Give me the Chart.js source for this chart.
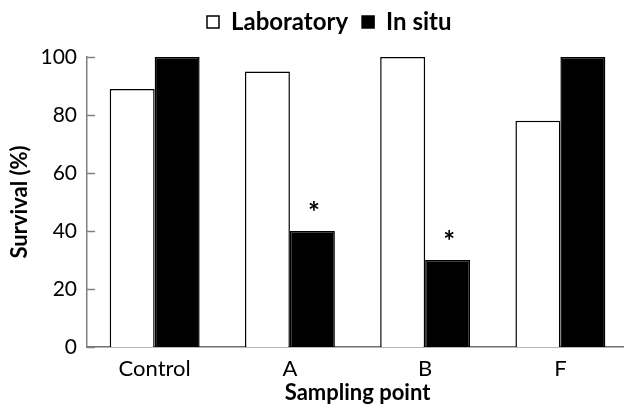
<!DOCTYPE html>
<html>
<head>
<meta charset="utf-8">
<script src="https://cdn.jsdelivr.net/npm/chart.js@4"></script>
<style>
  html, body { margin: 0; padding: 0; background: #ffffff; }
  #c { display: block; }
</style>
</head>
<body>
<canvas id="c" width="624" height="419"></canvas>
<script>
const categories = ['Control', 'A', 'B', 'F'];
const laboratory = [89, 95, 100, 78];
const inSitu = [100, 40, 30, 100];
const significance = ['', '*', '*', ''];
const yTickValues = [0, 20, 40, 60, 80, 100];

const FONT = 'Lato, "Open Sans", "Liberation Sans", sans-serif';

const innerTicks = {
  id: 'innerTicks',
  afterDatasetsDraw(chart) {
    const y = chart.scales.y;
    const ctx = chart.ctx;
    ctx.save();
    ctx.strokeStyle = '#808080';
    ctx.lineWidth = 1.5;
    y.ticks.forEach((t, i) => {
      const py = Math.round(y.getPixelForTick(i)) + 0.5;
      ctx.beginPath();
      ctx.moveTo(y.right, py);
      ctx.lineTo(y.right + 8, py);
      ctx.stroke();
    });
    ctx.restore();
  }
};

const asterisks = {
  id: 'asterisks',
  afterDatasetsDraw(chart) {
    const meta = chart.getDatasetMeta(1);
    const ctx = chart.ctx;
    ctx.save();
    ctx.fillStyle = '#000000';
    ctx.font = 'bold 28px ' + FONT;
    ctx.textAlign = 'center';
    ctx.textBaseline = 'middle';
    meta.data.forEach((bar, i) => {
      if (significance[i]) {
        ctx.fillText(significance[i], bar.x + 1.5, bar.y - 18);
      }
    });
    ctx.restore();
  }
};

const layoutTweak = {
  id: 'layoutTweak',
  afterLayout(chart) {
    const l = chart.legend;
    l.left += 14; l.right += 14;
    l.top -= 13; l.bottom -= 13;
    const x = chart.scales.x;
    x.right += 4;
    x.configure();
  }
};

new Chart(document.getElementById('c'), {
  type: 'bar',
  data: {
    labels: categories,
    datasets: [
      {
        label: 'Laboratory',
        data: laboratory,
        backgroundColor: '#ffffff',
        borderColor: '#000000',
        borderWidth: 1.5
      },
      {
        label: 'In situ',
        data: inSitu,
        backgroundColor: '#000000',
        borderColor: '#000000',
        borderWidth: 1.5
      }
    ]
  },
  options: {
    responsive: false,
    animation: false,
    devicePixelRatio: 1,
    layout: { padding: { left: 6.5, right: 0, top: 9, bottom: 15.1 } },
    datasets: {
      bar: { categoryPercentage: 0.665, barPercentage: 1.0 }
    },
    plugins: {
      tooltip: { enabled: false },
      legend: {
        position: 'top',
        labels: {
          color: '#000000',
          font: { family: FONT, size: 24, weight: 'bold' },
          boxWidth: 12,
          boxHeight: 12,
          padding: 14
        }
      }
    },
    scales: {
      x: {
        type: 'category',
        offset: true,
        grid: { display: false, drawTicks: false },
        border: { display: true, color: '#707070', width: 1.5 },
        ticks: {
          color: '#000000',
          font: { family: FONT, size: 22 },
          padding: 9
        },
        title: {
          display: true,
          text: 'Sampling point',
          color: '#000000',
          font: { family: FONT, size: 22, weight: 'bold', lineHeight: 1 },
          padding: { top: -9.5, bottom: 0 }
        }
      },
      y: {
        min: 0,
        max: 100,
        afterBuildTicks(scale) {
          scale.ticks = yTickValues.map(v => ({ value: v }));
        },
        grid: { display: false, drawTicks: false },
        border: { display: true, color: '#808080', width: 1.5 },
        ticks: {
          color: '#000000',
          font: { family: FONT, size: 21 },
          padding: 10
        },
        title: {
          display: true,
          text: 'Survival (%)',
          color: '#000000',
          font: { family: FONT, size: 22, weight: 'bold', lineHeight: 1 },
          padding: { top: 2, bottom: 0 }
        }
      }
    }
  },
  plugins: [innerTicks, asterisks, layoutTweak]
});
</script>
</body>
</html>
